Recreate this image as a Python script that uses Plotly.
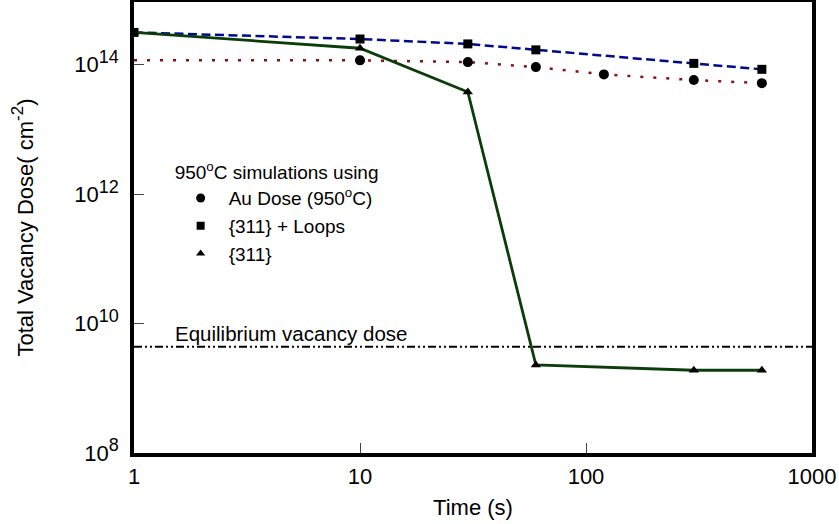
import math
import plotly.graph_objects as go

# Data
time_au = [1, 10, 30, 60, 120, 300, 600]
dose_au = [1.17e14, 1.17e14, 1.1e14, 9.2e13, 7.1e13, 5.8e13, 5.2e13]

time_loops = [1, 10, 30, 60, 300, 600]
dose_loops = [3.16e14, 2.5e14, 2.1e14, 1.7e14, 1.05e14, 8.5e13]

time_311 = [1, 10, 30, 60, 300, 600]
dose_311 = [3.16e14, 1.8e14, 3.8e13, 2.3e9, 1.9e9, 1.9e9]

equilibrium_dose = 4.4e9
x_span = [1, 1000]

y_tickvals = [1e8, 1e10, 1e12, 1e14]
y_exponents = ["8", "10", "12", "14"]
x_tickvals = [1, 10, 100, 1000]
x_ticktext = ["1", "10", "100", "1000"]

FONT = "Liberation Sans, Arial, sans-serif"
SUP = '10<sup><span style="font-size:18px">{}</span></sup>'
y_ticktext = [SUP.format(e) for e in y_exponents]

fig = go.Figure()

# equilibrium line
fig.add_trace(go.Scatter(
    x=x_span, y=[equilibrium_dose, equilibrium_dose], mode="lines",
    line=dict(color="black", width=2, dash="8px,3px,2px,3px,2px,3px"),
    showlegend=False, hoverinfo="skip"))

# Au dose (red dotted, circles)
fig.add_trace(go.Scatter(
    x=time_au, y=dose_au, mode="lines+markers",
    line=dict(color="#8b1010", width=2.5, dash="3px,10px"),
    marker=dict(symbol="circle", color="#000000", opacity=1, line=dict(width=0),
                size=[0] + [10] * (len(time_au) - 1)),
    showlegend=False))

# {311} + Loops (blue dashed, squares)
fig.add_trace(go.Scatter(
    x=time_loops, y=dose_loops, mode="lines+markers",
    line=dict(color="#000a8c", width=2.5, dash="9px,4.5px"),
    marker=dict(symbol="square", color="#000000", size=9, line=dict(width=0)),
    showlegend=False))

# {311} (green solid, triangles)
fig.add_trace(go.Scatter(
    x=time_311, y=dose_311, mode="lines+markers",
    line=dict(color="#0b3d0b", width=2.8),
    marker=dict(symbol="triangle-up", color="#000000", size=9, line=dict(width=0)),
    showlegend=False))

# legend-only entries (markers only)
for name, sym, sz in [("Au Dose (950<sup>o</sup>C)", "circle", 9),
                      ("{311} + Loops", "square", 8),
                      ("{311}", "triangle-up", 8)]:
    fig.add_trace(go.Scatter(x=[None], y=[None], mode="markers", name=name,
                             marker=dict(symbol=sym, color="#000000", size=sz)))

fig.add_annotation(x=0.057, y=math.log10(equilibrium_dose), xref="paper", yref="y",
                   text="Equilibrium vacancy dose", showarrow=False,
                   xanchor="left", yanchor="bottom", yshift=0,
                   font=dict(size=20.5, color="black", family=FONT))

axis_common = dict(showline=True, linecolor="black", linewidth=3.5, mirror=True,
                   ticks="inside", ticklen=10, tickwidth=1, tickcolor="#444",
                   showgrid=False, zeroline=False, automargin=False,
                   tickfont=dict(size=22, color="black", family=FONT))

fig.update_xaxes(type="log", range=[0, 3], tickvals=x_tickvals, ticktext=x_ticktext,
                 ticklabelstandoff=1,
                 title=dict(text="Time (s)", font=dict(size=22, color="black", family=FONT),
                            standoff=12),
                 **axis_common)
fig.update_yaxes(type="log", range=[8, 14.97], tickvals=y_tickvals, ticktext=y_ticktext,
                 ticklabelstandoff=7,
                 title=dict(text='Total Vacancy Dose( cm<sup><span style="font-size:17px">-2</span></sup>)',
                            font=dict(size=22, color="black", family=FONT), standoff=36),
                 **axis_common)

fig.update_layout(
    width=839, height=524,
    margin=dict(l=134, r=27, t=2, b=71),
    paper_bgcolor="white", plot_bgcolor="white",
    font=dict(family=FONT, color="black"),
    legend=dict(x=0.057, y=0.662, xanchor="left", yanchor="top",
                title=dict(text="950<sup>o</sup>C simulations using",
                           font=dict(size=19, family=FONT)),
                font=dict(size=19, family=FONT), bgcolor="rgba(0,0,0,0)",
                tracegroupgap=0, itemsizing="trace", itemwidth=46),
)

fig.write_html("out.html", config={"displayModeBar": False},
               post_script="document.body.style.margin='0';")
